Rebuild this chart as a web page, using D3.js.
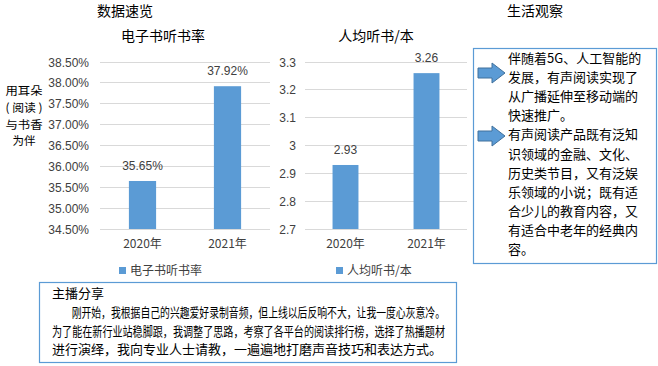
<!DOCTYPE html>
<html><head><meta charset="utf-8">
<script src="https://cdn.jsdelivr.net/npm/d3@7"></script>
<style>
body{margin:0;background:#fff;}
svg{display:block;}
.cjk{font-family:"Noto Sans CJK SC","Noto Sans",sans-serif;fill:#000;}
.lat{font-family:"Liberation Sans",Arial,sans-serif;fill:#404040;}
</style></head>
<body>
<svg id="c" width="658" height="366"></svg>
<script>
const years = ["2020年", "2021年"];
const rateValues = [35.65, 37.92];
const rateTicks = [34.5, 35, 35.5, 36, 36.5, 37, 37.5, 38, 38.5];
const perCapitaValues = [2.93, 3.26];
const perCapitaTicks = [2.7, 2.8, 2.9, 3, 3.1, 3.2, 3.3];
const sideLines = ["用耳朵", "( 阅读 )", "与书香", "为伴"];
const boxLines = ["伴随着5G、人工智能的", "发展，有声阅读实现了", "从广播延伸至移动端的", "快速推广。", "有声阅读产品既有泛知", "识领域的金融、文化、", "历史类节目，又有泛娱", "乐领域的小说；既有适", "合少儿的教育内容，又", "有适合中老年的经典内", "容。"];
const shareTitle = "主播分享";
const shareLines = ["　　刚开始，我根据自己的兴趣爱好录制音频，但上线以后反响不大，让我一度心灰意冷。", "为了能在新行业站稳脚跟，我调整了思路，考察了各平台的阅读排行榜，选择了热播题材", "进行演绎，我向专业人士请教，一遍遍地打磨声音技巧和表达方式。"];

const BAR = "#5b9bd5", GRID = "#d9d9d9", BOX = "#5b9bd5";
const svg = d3.select("#c");

// headings
svg.append("text").attr("class","cjk").attr("x",97).attr("y",16).attr("font-size",14).text("数据速览");
svg.append("text").attr("class","cjk").attr("x",507).attr("y",16).attr("font-size",14).text("生活观察");

// side text
sideLines.forEach((t,i)=>{
  svg.append("text").attr("class","cjk").attr("x",24).attr("y",95+i*16.8)
    .attr("text-anchor","middle").attr("font-size",11.5).attr("textLength", i===3?null:37)
    .attr("lengthAdjust","spacingAndGlyphs").text(t);
});

function drawChart(opts){
  const {x0,x1,yTop,yBot,domain,ticks,values,fmt,tickFmt,title,titleX,labelX,legendX,legendText} = opts;
  const y = d3.scaleLinear().domain(domain).range([yBot,yTop]);
  const x = d3.scaleBand().domain(years).range([x0,x1]).paddingInner(0.68).paddingOuter(0.34);
  const g = svg.append("g");
  g.selectAll("line.grid").data(ticks).join("line")
    .attr("x1",x0).attr("x2",x1).attr("y1",d=>y(d)).attr("y2",d=>y(d))
    .attr("stroke",GRID).attr("stroke-width",1).attr("shape-rendering","crispEdges");
  g.selectAll("text.tick").data(ticks).join("text").attr("class","lat")
    .attr("x",labelX).attr("y",d=>y(d)+4.5).attr("text-anchor","end").attr("font-size",12)
    .text(tickFmt);
  g.selectAll("rect").data(values).join("rect")
    .attr("x",(d,i)=>x(years[i])).attr("width",x.bandwidth())
    .attr("y",d=>y(d)).attr("height",d=>yBot-y(d)).attr("fill",BAR);
  g.selectAll("text.val").data(values).join("text").attr("class","lat")
    .attr("x",(d,i)=>x(years[i])+x.bandwidth()/2).attr("y",d=>y(d)-11)
    .attr("text-anchor","middle").attr("font-size",12).text(fmt);
  g.selectAll("text.xl").data(years).join("text").attr("class","cjk")
    .attr("x",d=>x(d)+x.bandwidth()/2).attr("y",yBot+19).attr("text-anchor","middle")
    .attr("font-size",12).style("fill","#404040").text(d=>d);
  g.append("text").attr("class","cjk").attr("x",titleX).attr("y",41).attr("text-anchor","middle")
    .attr("font-size",14).text(title);
  g.append("rect").attr("x",legendX).attr("y",267).attr("width",7).attr("height",7).attr("fill",BAR);
  g.append("text").attr("class","cjk").attr("x",legendX+11).attr("y",275).attr("font-size",12)
    .style("fill","#404040").text(legendText);
}

drawChart({x0:100,x1:270,yTop:62,yBot:229,domain:[34.5,38.5],ticks:rateTicks,values:rateValues,
  fmt:d=>d.toFixed(2)+"%",tickFmt:d=>d.toFixed(2)+"%",title:"电子书听书率",titleX:163,labelX:89,
  legendX:119,legendText:"电子书听书率"});
drawChart({x0:305,x1:467,yTop:62,yBot:229,domain:[2.7,3.3],ticks:perCapitaTicks,values:perCapitaValues,
  fmt:d=>d.toFixed(2),tickFmt:d=>String(+d.toFixed(1)),title:"人均听书/本",titleX:376,labelX:296,
  legendX:336,legendText:"人均听书/本"});

// right box
svg.append("rect").attr("x",473.5).attr("y",48.5).attr("width",183).attr("height",215)
  .attr("fill","none").attr("stroke",BOX).attr("stroke-width",1.2);
boxLines.forEach((t,i)=>{
  svg.append("text").attr("class","cjk").attr("x",508).attr("y",63+i*19.1).attr("font-size",13).text(t);
});
function arrow(cx,cy){
  const p = `M${cx-13},${cy-5} L${cx+1},${cy-5} L${cx+1},${cy-10} L${cx+14},${cy} L${cx+1},${cy+10} L${cx+1},${cy+5} L${cx-13},${cy+5} Z`;
  svg.append("path").attr("d",p).attr("fill","#5b9bd5").attr("stroke","#41719c").attr("stroke-width",1);
}
arrow(491,73);
arrow(491,136);

// bottom box
svg.append("rect").attr("x",39.5).attr("y",282.5).attr("width",417).attr("height",80)
  .attr("fill","none").attr("stroke",BOX).attr("stroke-width",1.2);
svg.append("text").attr("class","cjk").attr("x",52).attr("y",298).attr("font-size",13).text(shareTitle);
shareLines.forEach((t,i)=>{
  svg.append("text").attr("class","cjk").attr("x",52).attr("y",317+i*18.7).attr("font-size",13)
    .attr("textLength", i===2?null:393).attr("lengthAdjust","spacingAndGlyphs").text(t);
});
</script>
</body></html>
